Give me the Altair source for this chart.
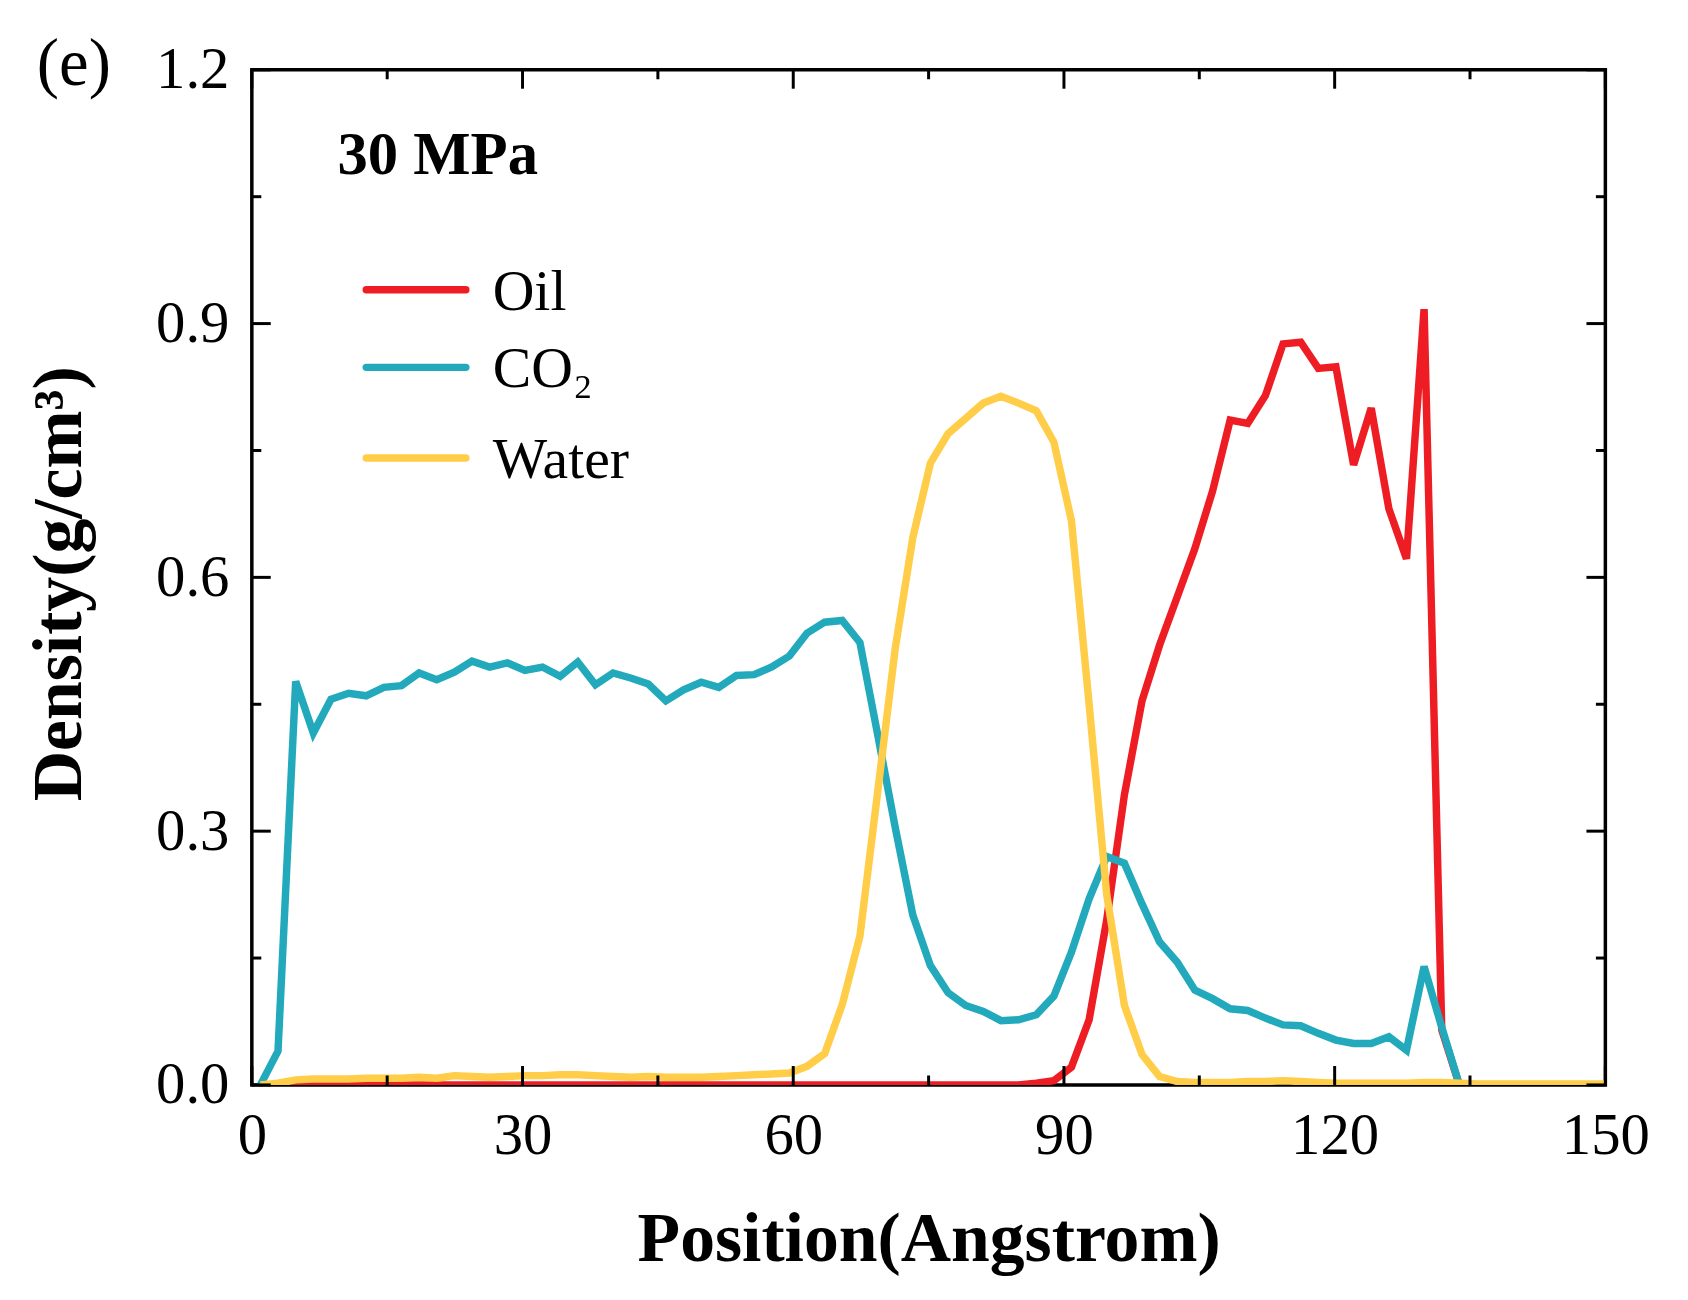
import altair as alt
import pandas as pd

# Bin-centre positions (Angstrom)
pos = [0.95, 2.90, 4.86, 6.81, 8.77, 10.72, 12.67, 14.63, 16.58, 18.54,
       20.49, 22.44, 24.40, 26.35, 28.31, 30.26, 32.21, 34.17, 36.12, 38.08,
       40.03, 41.98, 43.94, 45.89, 47.85, 49.80, 51.75, 53.71, 55.66, 57.62,
       59.57, 61.52, 63.48, 65.43, 67.39, 69.34, 71.29, 73.25, 75.20, 77.16,
       79.11, 81.06, 83.02, 84.97, 86.93, 88.88, 90.83, 92.79, 94.74, 96.70,
       98.65, 100.60, 102.56, 104.51, 106.47, 108.42, 110.37, 112.33, 114.28, 116.24,
       118.19, 120.14, 122.10, 124.05, 126.01, 127.96, 129.91, 131.87, 133.82, 135.78,
       137.73, 139.68, 141.64, 143.59, 145.55, 147.50, 149.45, 151.41]

oil = [0, 0, 0, 0, 0, 0, 0, 0, 0, 0,
       0, 0, 0, 0, 0, 0, 0, 0, 0, 0,
       0, 0, 0, 0, 0, 0, 0, 0, 0, 0,
       0, 0, 0, 0, 0, 0, 0, 0, 0, 0,
       0, 0, 0, 0, 0.002, 0.005, 0.021, 0.077, 0.195, 0.343,
       0.454, 0.520, 0.577, 0.634, 0.702, 0.786, 0.782, 0.815, 0.876, 0.878,
       0.847, 0.849, 0.733, 0.800, 0.681, 0.622, 0.917, 0.065, 0.0]

co2 = [0.000, 0.040, 0.477, 0.416, 0.456, 0.463, 0.460, 0.470, 0.472, 0.487,
       0.479, 0.488, 0.501, 0.494, 0.499, 0.490, 0.494, 0.483, 0.500, 0.473,
       0.487, 0.481, 0.474, 0.454, 0.467, 0.476, 0.470, 0.484, 0.485, 0.494,
       0.507, 0.534, 0.547, 0.549, 0.523, 0.415, 0.305, 0.201, 0.141, 0.109,
       0.094, 0.087, 0.076, 0.077, 0.083, 0.105, 0.157, 0.220, 0.270, 0.262,
       0.214, 0.169, 0.145, 0.112, 0.102, 0.090, 0.088, 0.079, 0.071, 0.070,
       0.061, 0.053, 0.049, 0.049, 0.057, 0.041, 0.140, 0.068, 0.000]

water = [0.000, 0.002, 0.006, 0.007, 0.007, 0.007, 0.008, 0.008, 0.008, 0.009,
         0.008, 0.011, 0.010, 0.009, 0.010, 0.011, 0.011, 0.012, 0.012, 0.011,
         0.010, 0.009, 0.010, 0.009, 0.009, 0.009, 0.010, 0.011, 0.012, 0.013,
         0.014, 0.022, 0.037, 0.095, 0.176, 0.345, 0.515, 0.647, 0.735, 0.770,
         0.788, 0.806, 0.814, 0.806, 0.797, 0.760, 0.667, 0.450, 0.225, 0.094,
         0.036, 0.010, 0.004, 0.003, 0.003, 0.003, 0.004, 0.004, 0.005, 0.004,
         0.003, 0.002, 0.002, 0.002, 0.002, 0.002, 0.003, 0.003, 0.002, 0.001,
         0.001, 0.001, 0.001, 0.001, 0.001, 0.001, 0.001, 0.001]

series_names = ["Oil", "CO\u2082", "Water"]
series_colors = ["#EE1D24", "#22A9BC", "#FFCD48"]

x_major = [0, 30, 60, 90, 120, 150]
x_minor = [15, 45, 75, 105, 135]
y_major = [0.0, 0.3, 0.6, 0.9, 1.2]
y_minor = [0.15, 0.45, 0.75, 1.05]

W, H = 1360, 1020
SERIF = "Liberation Serif"

xscale = alt.Scale(domain=[0, 150], nice=False, zero=False)
yscale = alt.Scale(domain=[0, 1.2], nice=False, zero=False)

x_axis = alt.Axis(values=x_major, ticks=False, tickSize=0, domain=False, grid=False,
                  labelFont=SERIF, labelFontSize=59, labelColor="black",
                  labelBaseline="middle", labelPadding=51, labelFlush=False,
                  labelOverlap=False,
                  title="Position(Angstrom)", titleFont=SERIF, titleFontSize=70,
                  titleFontWeight="bold", titleColor="black",
                  titleBaseline="alphabetic", titleY=176, titleX=W / 2)
y_axis = alt.Axis(values=y_major, format=".1f", ticks=False, tickSize=0, domain=False,
                  grid=False, labelFont=SERIF, labelFontSize=59, labelColor="black",
                  labelPadding=23, labelFlush=False, labelOverlap=False,
                  title="Density(g/cm\u00b3)", titleFont=SERIF, titleFontSize=70,
                  titleFontWeight="bold", titleColor="black",
                  titleBaseline="alphabetic", titleX=-172, titleY=H / 2 + 6,
                  titleAngle=270, titleAlign="center")

def X(field):
    return alt.X(field, scale=xscale, axis=x_axis)

def Y(field):
    return alt.Y(field, scale=yscale, axis=y_axis)

dfs = [
    pd.DataFrame({"x": pos[:len(oil)], "y": oil}),
    pd.DataFrame({"x": pos[:len(co2)], "y": co2}),
    pd.DataFrame({"x": pos[:len(water)], "y": water}),
]

layers = []
for df, col in zip(dfs, series_colors):
    layers.append(
        alt.Chart(df).mark_line(color=col, strokeWidth=7.5, clip=True)
        .encode(x=X("x:Q"), y=Y("y:Q"))
    )

# inward tick marks on all four sides
xmaj = pd.DataFrame({"x": x_major})
xmin = pd.DataFrame({"x": x_minor})
ymaj = pd.DataFrame({"y": y_major})
ymin = pd.DataFrame({"y": y_minor})

def xticks(df, length):
    bottom = alt.Chart(df).mark_rule(color="black", strokeWidth=3).encode(
        x=X("x:Q"), y=alt.value(H), y2=alt.value(H - length))
    top = alt.Chart(df).mark_rule(color="black", strokeWidth=3).encode(
        x=X("x:Q"), y=alt.value(0), y2=alt.value(length))
    return [bottom, top]

def yticks(df, length):
    left = alt.Chart(df).mark_rule(color="black", strokeWidth=3).encode(
        y=Y("y:Q"), x=alt.value(0), x2=alt.value(length))
    right = alt.Chart(df).mark_rule(color="black", strokeWidth=3).encode(
        y=Y("y:Q"), x=alt.value(W), x2=alt.value(W - length))
    return [left, right]

layers += xticks(xmaj, 19) + xticks(xmin, 9.5) + yticks(ymaj, 19) + yticks(ymin, 9.5)

# legend (drawn manually inside the plot)
legend_y = [221, 299, 390]
for name, col, ly in zip(series_names, series_colors, legend_y):
    layers.append(
        alt.Chart(pd.DataFrame({"n": [name]})).mark_rule(
            color=col, strokeWidth=7.5, strokeCap="round").encode(
            x=alt.value(115), x2=alt.value(215), y=alt.value(ly))
    )
    layers.append(
        alt.Chart(pd.DataFrame({"n": [name]})).mark_text(
            font=SERIF, fontSize=58, color="black", align="left",
            baseline="alphabetic").encode(
            text="n:N", x=alt.value(242), y=alt.value(ly + 20))
    )

# annotations
layers.append(
    alt.Chart(pd.DataFrame({"t": ["30 MPa"]})).mark_text(
        font=SERIF, fontSize=61, fontWeight="bold", color="black",
        align="left", baseline="alphabetic").encode(
        text="t:N", x=alt.value(86), y=alt.value(105))
)
layers.append(
    alt.Chart(pd.DataFrame({"t": ["(e)"]})).mark_text(
        font=SERIF, fontSize=67, color="black",
        align="left", baseline="alphabetic").encode(
        text="t:N", x=alt.value(-216), y=alt.value(15))
)

chart = alt.layer(*layers).properties(
    width=W, height=H,
    autosize=alt.AutoSizeParams(type="none"),
    padding={"left": 245, "top": 59, "right": 75, "bottom": 213},
    background="white",
).configure_view(stroke="black", strokeWidth=3.5)

chart.save("out.html", embed_options={"renderer": "svg", "actions": False})
